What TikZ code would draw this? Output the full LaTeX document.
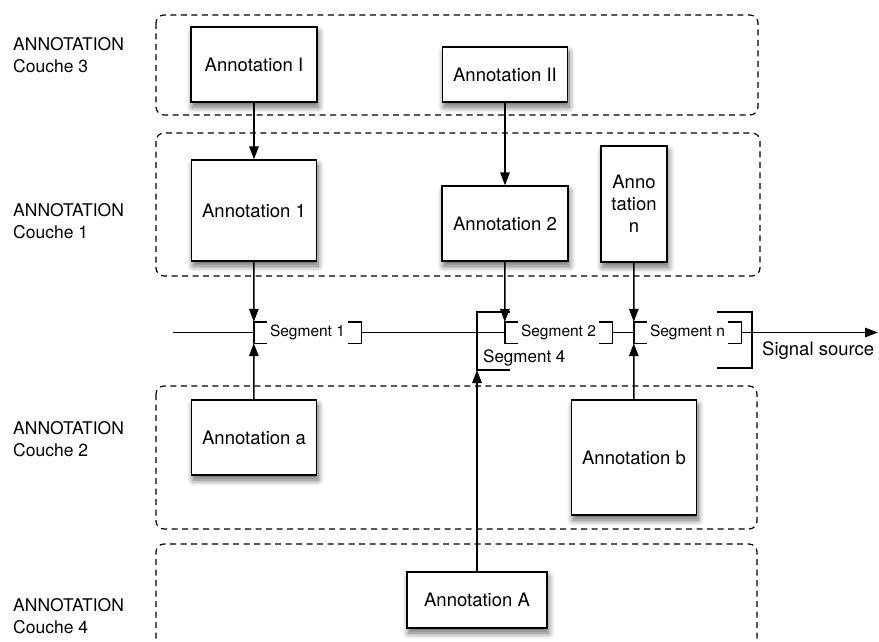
\documentclass[tikz,border=0pt]{standalone}
\usepackage{fontspec}
\setmainfont{TeX Gyre Heros}
\usetikzlibrary{arrows.meta,shadows.blur}
\tikzset{%
annbox/.style={rectangle, draw=black, line width=1.3pt, fill=white, align=center, inner sep=0pt, font=\fontsize{18.5}{22}\selectfont, blur shadow={shadow xshift=1.5pt, shadow yshift=-5pt, shadow blur radius=6pt, shadow blur steps=10, shadow opacity=60}},
layer/.style={draw=black, line width=1.2pt, dash pattern=on 6pt off 4.5pt, rounded corners=8pt},
couche/.style={anchor=west, align=left, inner sep=0pt, font=\fontsize{17.5}{22}\selectfont},
segnode/.style={rectangle, minimum width=107pt, minimum height=21pt, inner sep=0pt, font=\fontsize{15.5}{18}\selectfont},
brk/.style={draw=black, line width=1.4pt},
pt/.style={draw=black, line width=1.4pt, -{Triangle[length=13pt,width=9.5pt]}}
}
\begin{document}
\begin{tikzpicture}[x=1pt, y=-1pt]
\useasboundingbox (0,0) rectangle (879,642);
% couches
\draw[layer] (156,15) rectangle (758,115);
\draw[layer] (156,133) rectangle (760,276);
\draw[layer] (156,386) rectangle (757,529);
\draw[layer] (156,670) -- (156,544) -- (757,544) -- (757,670);

\node[couche] (c3) at (13,55) {ANNOTATION\\Couche 3};
\node[couche] (c1) at (13,221) {ANNOTATION\\Couche 1};
\node[couche] (c2) at (13,439) {ANNOTATION\\Couche 2};
\node[couche] (c4) at (13,616) {ANNOTATION\\Couche 4};

% annotations
\node[annbox, minimum width=126pt, minimum height=75pt] (annI) at (254,64.5) {Annotation I};
\node[annbox, minimum width=125pt, minimum height=55pt] (annII) at (505,74.5) {Annotation II};
\node[annbox, minimum width=125pt, minimum height=101pt] (ann1) at (254,210.5) {Annotation 1};
\node[annbox, minimum width=126pt, minimum height=75pt] (ann2) at (505,223.5) {Annotation 2};
\node[annbox, minimum width=66pt, minimum height=116pt] (annn) at (634,204) {Anno\\tation\\n};
\node[annbox, minimum width=125pt, minimum height=75pt] (anna) at (254,437.5) {Annotation a};
\node[annbox, minimum width=125pt, minimum height=115pt] (annb) at (634,457.5) {Annotation b};
\node[annbox, minimum width=140pt, minimum height=56pt] (annA) at (477,600) {Annotation A};

% segments
\node[segnode] (seg1) at (307.5,332.5) {Segment 1};
\node[segnode] (seg2) at (558.5,332.5) {Segment 2};
\node[segnode] (segn) at (687.5,332.5) {Segment n};
\foreach \s in {seg1,seg2,segn}
  \draw[brk] ([xshift=13pt]\s.north west) -- (\s.north west) -- (\s.south west) -- ([xshift=13pt]\s.south west)
             ([xshift=-13pt]\s.north east) -- (\s.north east) -- (\s.south east) -- ([xshift=-13pt]\s.south east);

\coordinate (s4top) at (477,312);
\coordinate (s4bot) at (477,370);
\node[anchor=west, inner sep=0pt, font=\fontsize{17}{20}\selectfont] (seg4) at (483,358) {Segment 4};
\draw[brk] ([xshift=33pt]s4top) -- (s4top) -- (s4bot) -- ([xshift=33pt]s4bot);

\coordinate (srctop) at (752,312);
\coordinate (srcbot) at (752,368);
\draw[brk] ([xshift=-35pt]srctop) -- (srctop) -- (srcbot) -- ([xshift=-35pt]srcbot);
\node[anchor=west, inner sep=0pt, font=\fontsize{18.5}{22}\selectfont] (src) at (762,351) {Signal source};

% signal
\coordinate (start) at (173,332.5);
\coordinate (end) at (878,332.5);
\draw[brk] (start) -- (seg1.west) (seg1.east) -- (seg2.west) (seg2.east) -- (segn.west);
\draw[pt] (segn.east) -- (end);

% links
\draw[pt] (annI) -- (ann1);
\draw[pt] (annII) -- (ann2);
\draw[pt] (ann1) -- (seg1.north west);
\draw[pt] (ann2) -- (seg2.north west);
\draw[pt] (annn) -- (segn.north west);
\draw[pt] (anna) -- (seg1.south west);
\draw[pt] (annb) -- (segn.south west);
\draw[pt] (annA) -- (s4bot);
\end{tikzpicture}
\end{document}
